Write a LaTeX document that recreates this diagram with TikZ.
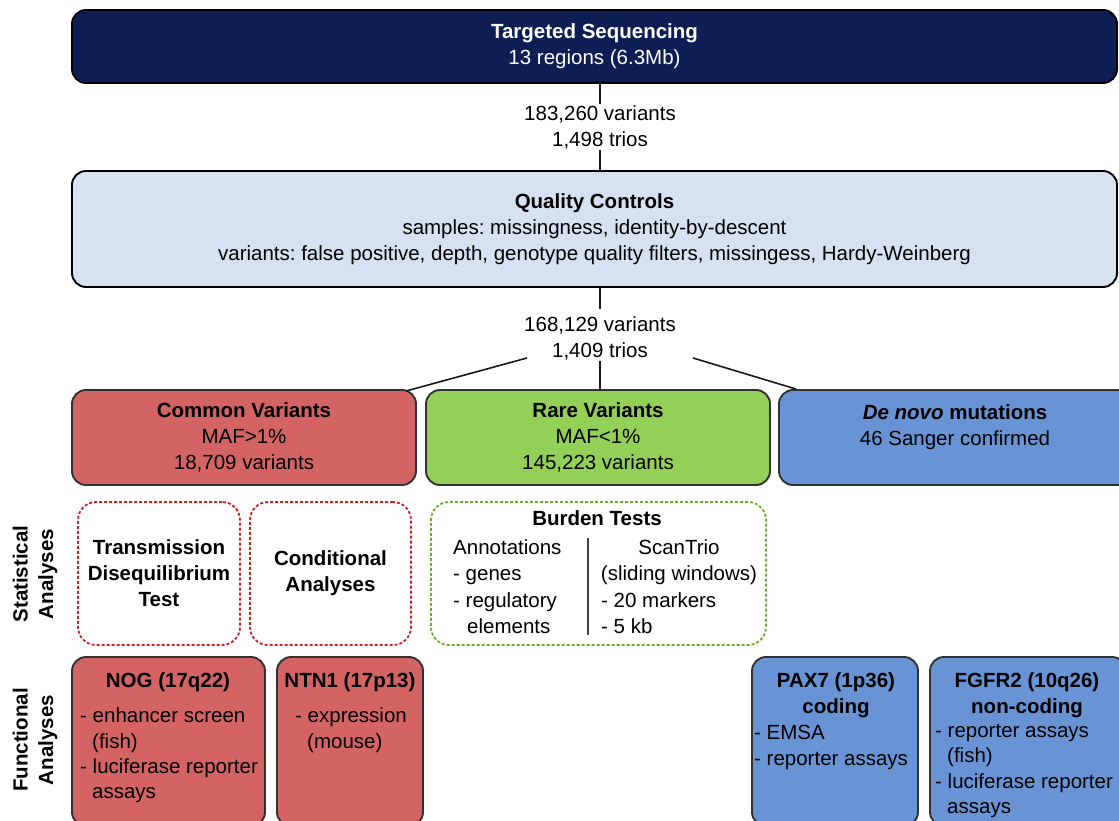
\documentclass[tikz,border=0pt]{standalone}
\usepackage{fontspec}
\setmainfont{Liberation Sans}
\frenchspacing
\definecolor{navy}{RGB}{12,30,84}
\definecolor{qcblue}{RGB}{214,225,242}
\definecolor{cred}{RGB}{212,100,100}
\definecolor{cgreen}{RGB}{146,208,88}
\definecolor{cblue}{RGB}{104,148,214}
\definecolor{dred}{RGB}{212,30,30}
\definecolor{dgreen}{RGB}{104,172,40}
\definecolor{edge}{RGB}{50,50,50}
\begin{document}
\begin{tikzpicture}[x=1pt,y=-1pt,
  every node/.style={font=\fontsize{20.5}{26}\selectfont},
  bf/.style={font=\fontsize{20.5}{26}\selectfont\bfseries},
  box/.style={draw=edge, line width=1.9pt, rounded corners=14pt, align=center, inner sep=0pt},
  dbox/.style={line width=1.8pt, rounded corners=18pt, dash pattern=on 3pt off 2pt, align=center, inner sep=0pt},
  lbl/.style={align=center, inner sep=1pt},
  ln/.style={anchor=base west, inner sep=0pt},
  lnc/.style={anchor=base, inner sep=0pt},
  conn/.style={line width=1.6pt, draw=black!90},
  side/.style={align=center, rotate=90, inner sep=0pt, font=\fontsize{20.5}{25.5}\selectfont\bfseries}]
\useasboundingbox (0,0) rectangle (1119,821);
\fill[white] (0,0) rectangle (1119,821);

% top chain
\node[box, fill=navy, draw=black, text=white, minimum width=1045, minimum height=73] (tgt) at (594.5,46.5) {\textbf{Targeted Sequencing}\\13 regions (6.3Mb)};
\node[lbl] (n1) at (600,127) {183,260 variants\\1,498 trios};
\node[box, fill=qcblue, draw=black, minimum width=1045, minimum height=116] (qc) at (594.5,229) {\textbf{Quality Controls}\\samples: missingness, identity-by-descent\\variants: false positive, depth, genotype quality filters, missingess, Hardy-Weinberg};
\node[lbl] (n2) at (600,338) {168,129 variants\\1,409 trios};

\draw[conn] (tgt.south -| n1.north) -- (n1.north);
\draw[conn] (n1.south) -- (qc.north -| n1.south);
\draw[conn] (qc.south -| n2.north) -- ([yshift=6pt]n2.north);

% variant classes
\node[box, fill=cred, minimum width=344, minimum height=95] (cv) at (244,437.5) {\textbf{Common Variants}\\MAF>1\%\\18,709 variants};
\node[box, fill=cgreen, minimum width=344, minimum height=95] (rv) at (598,437.5) {\textbf{Rare Variants}\\MAF<1\%\\145,223 variants};
\node[box, fill=cblue, minimum width=352, minimum height=95] (dn) at (955,437.5) {};
\node[lbl] (dnt) at (955,427) {\textbf{\textit{De novo} mutations}\\46 Sanger confirmed};

\coordinate (sl) at (527,358);
\coordinate (sr) at (693,358);
\draw[conn] (sl) -- ([xshift=-11pt,yshift=-2pt]cv.north east);
\draw[conn] (n2.south) -- (rv.north -| n2.south);
\draw[conn] (sr) -- ([xshift=18pt]dn.north west);

% side labels
\node[side] (sa) at (35,574) {Statistical\\Analyses};
\node[side] (fa) at (35,740) {Functional\\Analyses};

% statistical analyses
\node[dbox, draw=dred, bf, minimum width=162, minimum height=143] (tdt) at (159,573.5) {Transmission\\Disequilibrium\\Test};
\node[dbox, draw=dred, bf, minimum width=161, minimum height=143] (cond) at (330.5,573.5) {Conditional\\Analyses};
\node[dbox, draw=dgreen, minimum width=335, minimum height=143] (bur) at (598.5,573.5) {};
\node[lnc, bf] (burt) at (597,525) {Burden Tests};
\node[ln] (ba1) at (453,554) {Annotations};
\node[ln] (ba2) at (453,580) {- genes};
\node[ln] (ba3) at (453,607) {- regulatory};
\node[ln] (ba4) at (467,633) {elements};
\node[lnc] (bs1) at (679,554) {ScanTrio};
\node[lnc] (bs2) at (679,580) {(sliding windows)};
\node[ln] (bs3) at (601,607) {- 20 markers};
\node[ln] (bs4) at (601,633) {- 5 kb};
\coordinate (dvt) at (588,538);
\coordinate (dvb) at (588,635);
\draw[line width=1.6pt, draw=black!75] (dvt) -- (dvb);

% functional analyses
\node[box, fill=cred, minimum width=193, minimum height=169] (nog) at (168.5,741.5) {};
\node[lnc, bf] (nogt) at (168,687) {NOG (17q22)};
\node[ln] (nog1) at (80,722) {- enhancer screen};
\node[ln] (nog2) at (92,748) {(fish)};
\node[ln] (nog3) at (80,773) {- luciferase reporter};
\node[ln] (nog4) at (92,798) {assays};

\node[box, fill=cred, minimum width=146, minimum height=169] (ntn) at (350,741.5) {};
\node[lnc, bf] (ntnt) at (350,687) {NTN1 (17p13)};
\node[ln] (ntn1) at (295,722) {- expression};
\node[ln] (ntn2) at (307,748) {(mouse)};

\node[box, fill=cblue, minimum width=166, minimum height=169] (pax) at (835,741.5) {};
\node[lnc, bf] (paxt) at (836,687) {PAX7 (1p36)};
\node[lnc, bf] (paxc) at (836,713) {coding};
\node[ln] (pax1) at (754,739) {- EMSA};
\node[ln] (pax2) at (754,765) {- reporter assays};

\node[box, fill=cblue, minimum width=196, minimum height=169] (fgf) at (1028,741.5) {};
\node[lnc, bf] (fgft) at (1027,687) {FGFR2 (10q26)};
\node[lnc, bf] (fgfc) at (1027,713) {non-coding};
\node[ln] (fgf1) at (935,737) {- reporter assays};
\node[ln] (fgf2) at (947,762) {(fish)};
\node[ln] (fgf3) at (935,788) {- luciferase reporter};
\node[ln] (fgf4) at (947,813) {assays};
\end{tikzpicture}
\end{document}
